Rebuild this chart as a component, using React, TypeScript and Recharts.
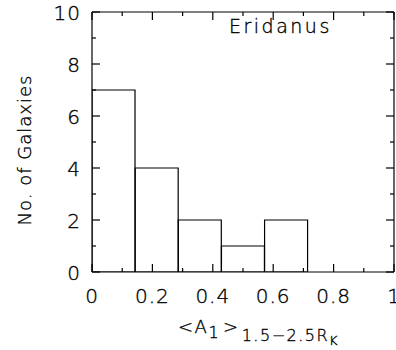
import { ComposedChart, Bar, Line, XAxis, YAxis } from 'recharts';

// histogram of <A1> in 7 equal bins over [0, 1]
const binStarts = [0, 0.1429, 0.2857, 0.4286, 0.5714, 0.7143, 0.8571];
const binWidth = 0.1429;
const counts = [7, 4, 2, 1, 2, 0, 0];
const xTicks = [0, 0.1, 0.2, 0.3, 0.4, 0.5, 0.6, 0.7, 0.8, 0.9, 1];
const yTicks = [0, 1, 2, 3, 4, 5, 6, 7, 8, 9, 10];

const data = binStarts.map((s, i) => ({ x: s + binWidth / 2, count: counts[i] }));

const FONT = '"DejaVu Sans", sans-serif';
const INK = '#000';

const isMajorX = (v: number) => Math.round(v * 10) % 2 === 0;
const isMajorY = (v: number) => v % 2 === 0;
const fmtX = (v: number) => (v === 0 || v === 1 ? String(v) : v.toFixed(1));

// thin, dark lettering a bit like the plotting package's stroke font
const letter = { fontFamily: FONT, fontWeight: 200, fill: INK, stroke: INK, strokeWidth: 0.35 };
const tickText = { ...letter, fontSize: 20, letterSpacing: 1 };

function BottomTick(props: any) {
  const { x, y, payload } = props;
  const major = isMajorX(payload.value);
  return (
    <g>
      <line x1={x} x2={x} y1={y} y2={y - (major ? 8 : 4)} stroke={INK} strokeWidth={1.2} />
      {major && (
        <text x={x} y={y + 31} textAnchor="middle" {...tickText}>
          {fmtX(payload.value)}
        </text>
      )}
    </g>
  );
}

function TopTick(props: any) {
  const { x, y, payload } = props;
  const major = isMajorX(payload.value);
  return <line x1={x} x2={x} y1={y} y2={y + (major ? 8 : 4)} stroke={INK} strokeWidth={1.2} />;
}

function LeftTick(props: any) {
  const { x, y, payload } = props;
  const major = isMajorY(payload.value);
  return (
    <g>
      <line x1={x} x2={x + (major ? 8 : 4)} y1={y} y2={y} stroke={INK} strokeWidth={1.2} />
      {major && (
        <text x={x - 11} y={y + 7.5} textAnchor="end" {...tickText}>
          {payload.value}
        </text>
      )}
    </g>
  );
}

function RightTick(props: any) {
  const { x, y, payload } = props;
  const major = isMajorY(payload.value);
  return <line x1={x} x2={x - (major ? 8 : 4)} y1={y} y2={y} stroke={INK} strokeWidth={1.2} />;
}

export default function App() {
  const axisLine = { stroke: INK, strokeWidth: 1.2 };
  const common = {
    type: 'number' as const,
    interval: 0 as const,
    allowDataOverflow: true,
    tickLine: false,
    tickSize: 0,
    tickMargin: 0,
    axisLine,
  };
  return (
    <div style={{ position: 'absolute', left: 0, top: 0, background: '#fff' }}>
      <ComposedChart
        width={396}
        height={350}
        data={data}
        margin={{ top: 11, right: 1, bottom: 77, left: 91 }}
        barCategoryGap={0}
        barGap={0}
      >
        <XAxis dataKey="x" domain={[0, 1]} ticks={xTicks} tick={BottomTick} height={1} {...common} />
        <XAxis
          xAxisId="top"
          dataKey="x"
          orientation="top"
          domain={[0, 1]}
          ticks={xTicks}
          tick={TopTick}
          height={1}
          {...common}
        />
        <YAxis domain={[0, 10]} ticks={yTicks} tick={LeftTick} width={1} {...common} />
        <YAxis
          yAxisId="right"
          orientation="right"
          domain={[0, 10]}
          ticks={yTicks}
          tick={RightTick}
          width={1}
          {...common}
        />
        <Bar dataKey="count" fill="none" stroke={INK} strokeWidth={1.2} isAnimationActive={false} />
        {/* carries the top and right frame axes; draws nothing */}
        <Line
          xAxisId="top"
          yAxisId="right"
          dataKey="count"
          stroke="none"
          dot={false}
          activeDot={false}
          legendType="none"
          isAnimationActive={false}
        />
        <text x={229} y={33} fontSize={19} letterSpacing={2.5} {...letter}>
          Eridanus
        </text>
        <text
          x={0}
          y={0}
          transform="translate(31,150) rotate(-90)"
          textAnchor="middle"
          fontSize={18}
          letterSpacing={1}
          {...letter}
        >
          No. of Galaxies
        </text>
        <text x={178} y={333} fontSize={18} letterSpacing={1.5} {...letter}>
          {'<A'}
          <tspan fontSize={16} dy={5}>1</tspan>
          <tspan fontSize={18} dx={3} dy={-5}>{'>'}</tspan>
          <tspan fontSize={16} dx={2} dy={8}>1.5−2.5R</tspan>
          <tspan fontSize={13} dy={4}>K</tspan>
        </text>
      </ComposedChart>
    </div>
  );
}
